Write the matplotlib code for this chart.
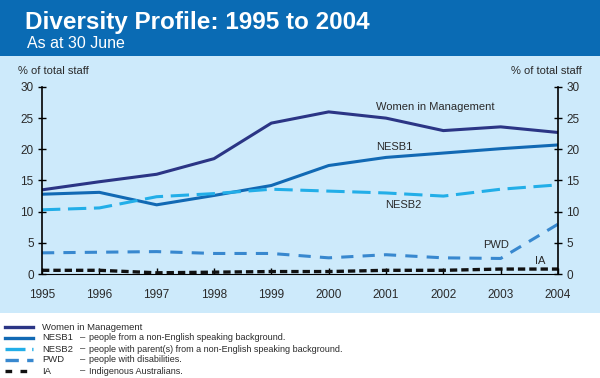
import matplotlib.pyplot as plt
from matplotlib.patches import Rectangle
from matplotlib.lines import Line2D

plt.rcParams['font.family'] = ['Liberation Sans', 'DejaVu Sans']

years = [1995, 1996, 1997, 1998, 1999, 2000, 2001, 2002, 2003, 2004]
women = [13.5, 14.8, 16.0, 18.5, 24.2, 26.0, 25.0, 23.0, 23.6, 22.7]
nesb1 = [12.8, 13.1, 11.1, 12.6, 14.2, 17.4, 18.7, 19.4, 20.1, 20.7]
nesb2 = [10.3, 10.6, 12.4, 12.9, 13.6, 13.3, 13.0, 12.5, 13.6, 14.3]
pwd = [3.4, 3.5, 3.6, 3.3, 3.3, 2.6, 3.1, 2.6, 2.5, 8.0]
ia = [0.6, 0.6, 0.2, 0.3, 0.4, 0.4, 0.6, 0.6, 0.8, 0.8]

c_women = '#2b3585'
c_nesb1 = '#1169b4'
c_nesb2 = '#22aee8'
c_pwd = '#3888cf'
c_ia = '#111111'
txt = '#2a2a2a'

fig = plt.figure(figsize=(6, 3.78), dpi=100)
fig.patch.set_facecolor('white')

# header band and light panel
fig.add_artist(Rectangle((0, 0.852), 1, 0.148, transform=fig.transFigure,
                         facecolor='#0a6bb4', edgecolor='none', zorder=-5))
fig.add_artist(Rectangle((0, 0.172), 1, 0.68, transform=fig.transFigure,
                         facecolor='#cdeafb', edgecolor='none', zorder=-5))
fig.text(0.042, 0.94, 'Diversity Profile: 1995 to 2004', color='white',
         fontsize=17.5, fontweight='bold', va='center', ha='left')
fig.text(0.045, 0.885, 'As at 30 June', color='white', fontsize=11.5,
         va='center', ha='left')

ax = fig.add_axes([0.07, 0.275, 0.86, 0.495])
ax.set_facecolor('none')
ax.set_zorder(2)

ax.plot(years, women, color=c_women, lw=2.2)
ax.plot(years, nesb1, color=c_nesb1, lw=2.2)
ax.plot(years, nesb2, color=c_nesb2, lw=2.2, dashes=(6, 2.5))
ax.plot(years, pwd, color=c_pwd, lw=2.2, dashes=(4, 3))
ax.plot(years, ia, color=c_ia, lw=2.4, dashes=(2.2, 1.2))

ax.set_xlim(1995, 2004)
ax.set_ylim(0, 30)
ax.set_xticks(years)
ax.set_yticks(range(0, 31, 5))
ax.spines['top'].set_visible(False)
for s in ['left', 'right', 'bottom']:
    ax.spines[s].set_color('black')
    ax.spines[s].set_linewidth(1.2)
ax.spines['bottom'].set_linewidth(0.8)
ax.tick_params(axis='y', which='both', direction='inout', length=6, width=1,
               labelsize=8.5, labelcolor=txt, left=True, right=True,
               labelleft=True, labelright=True, pad=3)
ax.tick_params(axis='x', direction='in', length=4, width=1, labelsize=8.5,
               labelcolor=txt, pad=11)

fig.text(0.03, 0.812, '% of total staff', fontsize=8, color=txt, ha='left', va='center')
fig.text(0.97, 0.812, '% of total staff', fontsize=8, color=txt, ha='right', va='center')

ax.text(2001.86, 26.8, 'Women in Management', fontsize=8, color=txt, ha='center', va='center')
ax.text(2001.14, 20.4, 'NESB1', fontsize=8, color=txt, ha='center', va='center')
ax.text(2001.3, 11.1, 'NESB2', fontsize=8, color=txt, ha='center', va='center')
ax.text(2002.92, 4.6, 'PWD', fontsize=8, color=txt, ha='center', va='center')
ax.text(2003.69, 2.1, 'IA', fontsize=8, color=txt, ha='center', va='center')

# legend drawn below the panel
leg = [
    (c_women, None, 'Women in Management', ''),
    (c_nesb1, None, 'NESB1', 'people from a non-English speaking background.'),
    (c_nesb2, (6, 2), 'NESB2', 'people with parent(s) from a non-English speaking background.'),
    (c_pwd, (4, 2.5), 'PWD', 'people with disabilities.'),
    (c_ia, (2, 2.5), 'IA', 'Indigenous Australians.'),
]
ys = [327, 338, 349, 360, 371]
for (col, dash, name, desc), yp in zip(leg, ys):
    fy = 1 - yp / 378
    ln = Line2D([0.008, 0.055], [fy, fy], transform=fig.transFigure,
                color=col, lw=2.4)
    if dash:
        ln.set_dashes(dash)
    fig.add_artist(ln)
    fig.text(0.07, fy, name, fontsize=6.8, color=txt, va='center', ha='left')
    if desc:
        fig.text(0.134, fy, '\u2013', fontsize=6.8, color=txt, va='center', ha='left')
        fig.text(0.148, fy, desc, fontsize=6.5, color=txt, va='center', ha='left')

fig.savefig('out.png', dpi=100)
